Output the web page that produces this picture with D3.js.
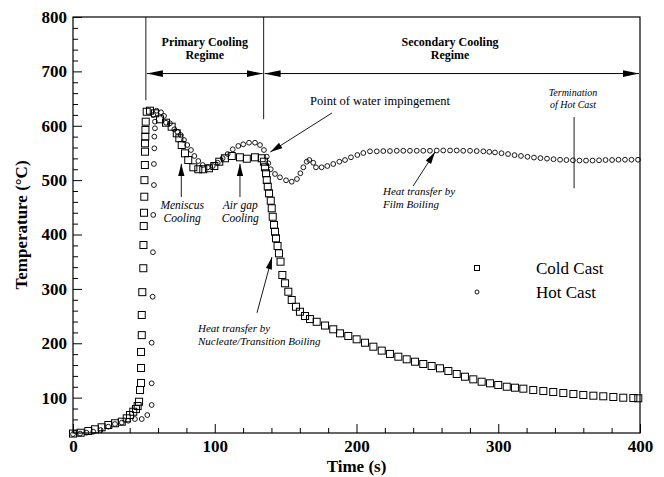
<!DOCTYPE html>
<html>
<head>
<meta charset="utf-8">
<script src="https://cdn.jsdelivr.net/npm/d3@7"></script>
<style>
  html, body { margin: 0; padding: 0; background: #fff; }
  svg { display: block; }
  text { font-family: "Liberation Serif", "Times New Roman", serif; fill: #000; }
</style>
</head>
<body>
<svg id="chart" width="664" height="477"></svg>
<script>
// Thermocouple temperature history, time (s) vs temperature (°C)
const coldTime = [0,5.4,10.8,15.5,20.2,24.9,29.6,34.4,37.9,40.2,42.5,44.4,45.6,46.6,47.3,48,48,48,48.5,48.5,48.9,49.6,49.7,49.9,50.1,50.3,50.4,50.7,50.8,50.8,51,51.1,51.3,52,54.3,57.8,61.4,65.6,69.6,73.2,75,76.7,79,81.3,84.9,88.4,91.9,95.9,99.7,103.2,107.2,112,117.8,122.6,128.4,133.1,134.7,135.4,136.2,136.7,137.4,138.3,139.5,140.2,140.9,141.8,142.5,143.2,144.3,145.3,146.4,147.7,149.6,151.9,154.3,157.3,160.1,163.7,167.2,171.9,177.8,183.6,188.4,194.2,200.1,206,211.9,217.8,223.6,229.5,235.4,241.3,247.1,253,258.9,264.8,270.7,276.5,282.4,288.3,294.2,300,306,311.8,317.7,324.7,331.8,338.8,345.9,353,360,367.1,374.1,381.2,388.2,395.3,398.8];
const coldTemp = [34,35.5,38.7,41.8,45.5,49.7,52.9,55.8,62,68,74.1,79,84.6,92.5,114,127,154.5,184,215,252,294,338,380.7,415.6,440,469.5,500,527.8,552.3,567.7,580,592.2,607.5,625.8,627.7,622.9,611.9,605.6,598.3,586.1,577,564.6,549.3,537,523.6,520,520,521.8,526,533.9,540.2,544.4,542,539.4,542,540.2,533.9,523.6,512.6,500.2,488,475.8,462.2,448.2,432.7,417.5,405.2,393,378.9,365.4,350,325.5,310.3,294.8,279.6,267.2,258,250.1,244.5,239.5,232.6,225.7,218.3,213.4,207.3,201,193.7,186.5,180.4,175.3,170.5,166.1,161.9,158.2,154,149,143.5,138.5,133.7,129.3,126.4,123.3,120.1,118.3,116.5,114.1,112.2,110.4,108.5,106.7,104.9,103.6,102.5,101.2,99.9,99.3,98.8];

const hotTime = [0,5,9.5,14.3,19.5,24.9,29.6,34.4,39,43.7,48.5,52.4,55.5,55.5,55.5,56.2,56.4,56.6,57.1,57.1,57.4,57.4,57.8,57.8,56.6,59,62.1,64.2,65.6,68.4,71.5,73.6,76,78.3,80.6,83.2,85.6,88.4,91.5,95,98.6,102.1,105.6,109.1,112.7,116.6,120.1,124.2,128.4,131.9,134.7,136.7,137.8,139.5,142.5,146,150.3,154.3,158,160.4,162.5,164.9,166.7,169.5,171.4,175.4,179.4,183.6,187.9,191.9,196.1,200.6,204.8,209.5,214.3,218.9,223.6,228.4,233,237.7,242.5,247.1,251.8,256.6,261.2,266,270.7,275.3,280.1,284.8,289.5,293.7,297.7,302.3,306.9,311.5,316,320.6,325.2,329.8,334.4,339,343.6,348.1,352.7,357.3,361.9,366.5,371.1,375.7,380.3,384.8,389.4,394,398.6];
const hotTemp = [33,34,35.5,37.4,40.5,46.6,51.5,54,57.6,60.7,60.7,68,86.5,126.4,201,285.6,367.5,436,491,529.7,558.5,580,595.3,607.5,619.8,627.7,624.7,618,605.6,604.5,593.5,589,583,573.8,564.6,555.4,544.4,535.2,527.8,523.6,526,532,540.2,548,556.7,562.8,565.9,568.8,568.8,564.6,555.4,543.1,531,520,511.3,505.2,499.7,497.1,502.1,512.6,523.6,533.9,537,532,523.6,523.6,526,529.7,533.9,537,542,546.2,549.9,553,553,553.5,553.5,554,554,554,554,554,554,554.5,554.5,554.5,554.5,554,554,553.5,553,552,551,549.5,548,546,544.5,543,541.5,540.5,539.5,538.5,537.5,537,536.5,536,536,536,536.5,537,537,537.5,537.5,537.5,537.5];

const seriesNames = ["Cold Cast", "Hot Cast"];
const xMajorTicks = [0, 100, 200, 300, 400];
const yMajorTicks = [100, 200, 300, 400, 500, 600, 700, 800];
const xLabel = "Time (s)";
const yLabel = "Temperature (°C)";

// Regime boundaries and annotation anchors, in data units (s, °C)
const primaryStart = 51.4, secondaryStart = 134.5, hotEnd = 353.5, regimeArrowTemp = 696;

const W = 664, H = 477;
const margin = { left: 73, right: 24, top: 17, bottom: 44 };
const svg = d3.select("#chart");

const x = d3.scaleLinear().domain([0, 400]).range([margin.left, W - margin.right]);
const y = d3.scaleLinear().domain([35, 800]).range([H - margin.bottom, margin.top]);

const serif = '"Liberation Serif", "Times New Roman", serif';

// arrowhead markers
const defs = svg.append("defs");
defs.append("marker")
  .attr("id", "head").attr("viewBox", "0 0 16 8").attr("refX", 16).attr("refY", 4)
  .attr("markerWidth", 16).attr("markerHeight", 8).attr("markerUnits", "userSpaceOnUse")
  .attr("orient", "auto-start-reverse")
  .append("path").attr("d", "M0,0.6 L16,4 L0,7.4 Z").attr("fill", "#000");
defs.append("marker")
  .attr("id", "headS").attr("viewBox", "0 0 14 8").attr("refX", 14).attr("refY", 4)
  .attr("markerWidth", 13).attr("markerHeight", 7).attr("markerUnits", "userSpaceOnUse")
  .attr("orient", "auto")
  .append("path").attr("d", "M0,0.4 L14,4 L0,7.6 Z").attr("fill", "#000");

// frame
svg.append("rect")
  .attr("x", x(0)).attr("y", y(800))
  .attr("width", x(400) - x(0)).attr("height", y(35) - y(800))
  .attr("fill", "none").attr("stroke", "#000").attr("stroke-width", 1.2);

// axes: minor ticks every 20, all ticks pointing inward
const xMinor = d3.range(20, 400, 20).filter(v => v % 100 !== 0);
const yMinor = d3.range(40, 800, 20).filter(v => v % 100 !== 0);

const gx = svg.append("g").attr("transform", `translate(0,${y(35)})`);
gx.call(d3.axisBottom(x).tickValues(xMinor).tickSize(-5).tickFormat(""));
gx.call(g => g.select(".domain").remove());
const gx2 = svg.append("g").attr("transform", `translate(0,${y(35)})`);
gx2.call(d3.axisBottom(x).tickValues(xMajorTicks).tickSize(-9).tickPadding(3).tickFormat(d3.format("d")));
gx2.select(".domain").remove();
gx2.selectAll("text").attr("y", 7).attr("dy", "0.71em")
  .style("font-family", serif).style("font-size", "17px").style("font-weight", "bold");

const gy = svg.append("g").attr("transform", `translate(${x(0)},0)`);
gy.call(d3.axisLeft(y).tickValues(yMinor).tickSize(-5).tickFormat(""));
gy.call(g => g.select(".domain").remove());
const gy2 = svg.append("g").attr("transform", `translate(${x(0)},0)`);
gy2.call(d3.axisLeft(y).tickValues(yMajorTicks).tickSize(-9).tickFormat(d3.format("d")));
gy2.select(".domain").remove();
gy2.selectAll("text").attr("x", -6)
  .style("font-family", serif).style("font-size", "17px").style("font-weight", "bold");
svg.selectAll(".tick line").attr("stroke", "#000").attr("stroke-width", 1);

// axis titles
svg.append("text").attr("x", (x(0) + x(400)) / 2).attr("y", 472)
  .attr("text-anchor", "middle").style("font-size", "17px").style("font-weight", "bold")
  .text(xLabel);
svg.append("text")
  .attr("transform", `translate(27,${(y(35) + y(800)) / 2}) rotate(-90)`)
  .attr("text-anchor", "middle").style("font-size", "17px").style("font-weight", "bold")
  .text(yLabel);

// regime boundaries
const lines = [
  [primaryStart, 800, primaryStart, 647],
  [secondaryStart, 800, secondaryStart, 612],
  [hotEnd, 616, hotEnd, 485]
];
svg.append("g").selectAll("line").data(lines).join("line")
  .attr("x1", d => x(d[0])).attr("y1", d => y(d[1]))
  .attr("x2", d => x(d[2])).attr("y2", d => y(d[3]))
  .attr("stroke", "#000").attr("stroke-width", 0.9);

// regime double arrows
const spans = [[primaryStart, secondaryStart], [secondaryStart, 400]];
svg.append("g").selectAll("line").data(spans).join("line")
  .attr("x1", d => x(d[0]) + 1).attr("x2", d => x(d[1]) - 1)
  .attr("y1", y(regimeArrowTemp)).attr("y2", y(regimeArrowTemp))
  .attr("stroke", "#000").attr("stroke-width", 1)
  .attr("marker-start", "url(#head)").attr("marker-end", "url(#head)");

// regime titles
const titles = [
  { t: (primaryStart + secondaryStart) / 2, lines: ["Primary Cooling", "Regime"] },
  { t: 266, lines: ["Secondary Cooling", "Regime"] }
];
titles.forEach(d => {
  const tx = svg.append("text").attr("text-anchor", "middle")
    .style("font-size", "12px").style("font-weight", "bold");
  d.lines.forEach((s, i) => tx.append("tspan").attr("x", x(d.t)).attr("y", y(747) + i * 13.5).text(s));
});

// data points
const cold = coldTime.map((t, i) => [t, coldTemp[i]]);
const hot = hotTime.map((t, i) => [t, hotTemp[i]]);
const sq = 7;
svg.append("g").selectAll("rect").data(cold).join("rect")
  .attr("x", d => x(d[0]) - sq / 2).attr("y", d => y(d[1]) - sq / 2)
  .attr("width", sq).attr("height", sq)
  .attr("fill", "none").attr("stroke", "#000").attr("stroke-width", 1);
svg.append("g").selectAll("circle").data(hot).join("circle")
  .attr("cx", d => x(d[0])).attr("cy", d => y(d[1])).attr("r", 2.4)
  .attr("fill", "none").attr("stroke", "#000").attr("stroke-width", 0.9);

// annotations
const notes = [
  { lines: ["Point of water impingement"], t: 167.2, T: 638, anchor: "start", italic: false, size: 12.5 },
  { lines: ["Termination", "of Hot Cast"], t: 352.7, T: 654, anchor: "middle", italic: true, size: 10 },
  { lines: ["Meniscus", "Cooling"], t: 77, T: 447, anchor: "middle", italic: true, size: 11.5 },
  { lines: ["Air gap", "Cooling"], t: 118, T: 447, anchor: "middle", italic: true, size: 11.5 },
  { lines: ["Heat transfer by", "Film Boiling"], t: 218.7, T: 472, anchor: "start", italic: true, size: 11 },
  { lines: ["Heat transfer by", "Nucleate/Transition Boiling"], t: 88.2, T: 220, anchor: "start", italic: true, size: 11 }
];
notes.forEach(n => {
  const tx = svg.append("text").attr("text-anchor", n.anchor)
    .style("font-size", n.size + "px").style("font-style", n.italic ? "italic" : "normal");
  const lh = n.size * 1.16;
  n.lines.forEach((s, i) => tx.append("tspan").attr("x", x(n.t)).attr("y", y(n.T) + i * lh).text(s));
});

const pointers = [
  [182.7, 623.5, 139.2, 551.7],
  [76.4, 469, 76.4, 530],
  [117.8, 469, 117.8, 530],
  [239.9, 489, 255.4, 551.7],
  [129.8, 256, 140.4, 358.6]
];
svg.append("g").selectAll("line").data(pointers).join("line")
  .attr("x1", d => x(d[0])).attr("y1", d => y(d[1]))
  .attr("x2", d => x(d[2])).attr("y2", d => y(d[3]))
  .attr("stroke", "#000").attr("stroke-width", 0.9)
  .attr("marker-end", "url(#headS)");

// legend
const lg = svg.append("g");
lg.append("rect").attr("x", 474.5).attr("y", 265.5).attr("width", 5).attr("height", 5)
  .attr("fill", "none").attr("stroke", "#000").attr("stroke-width", 1);
lg.append("circle").attr("cx", 477).attr("cy", 292).attr("r", 2)
  .attr("fill", "none").attr("stroke", "#000").attr("stroke-width", 0.9);
lg.selectAll("text").data(seriesNames).join("text")
  .attr("x", 536).attr("y", (d, i) => 274 + i * 24)
  .style("font-size", "17px").text(d => d);
</script>
</body>
</html>
